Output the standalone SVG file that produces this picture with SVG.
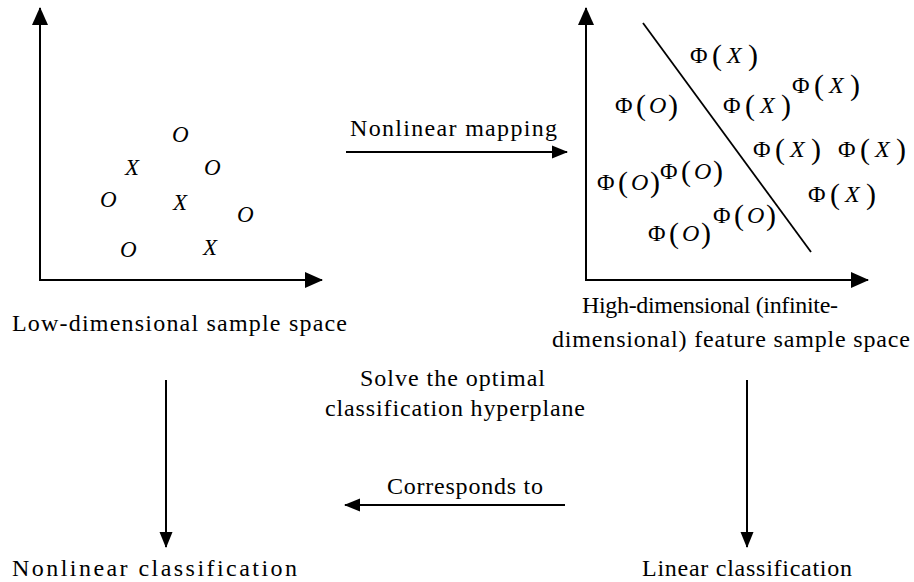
<svg xmlns="http://www.w3.org/2000/svg" width="914" height="582" viewBox="0 0 914 582">
<style>
.t{font-family:"Liberation Serif","Times New Roman",serif;font-size:24px;fill:#000}
.it{font-style:italic}
.pt{font-family:"Liberation Serif","Times New Roman",serif;font-size:23px;font-style:italic;fill:#000}
.phi{font-family:"Liberation Serif","Times New Roman",serif;font-size:24px;fill:#000}
.pr{font-size:30px}
.ax{stroke:#000;stroke-width:2;fill:none}
.ln{stroke:#000;stroke-width:1.8;fill:none}
.cn{stroke:#000;stroke-width:2;fill:none}
</style>
<defs>
<marker id="axh" markerUnits="userSpaceOnUse" markerWidth="18" markerHeight="16" refX="17" refY="8" orient="auto"><path d="M0,0 L18,8 L0,16 z" fill="#000"/></marker>
<marker id="arh" markerUnits="userSpaceOnUse" markerWidth="16" markerHeight="14" refX="15" refY="7" orient="auto"><path d="M0,0.5 L16,7 L0,13.5 z" fill="#000"/></marker>
</defs>
<rect width="914" height="582" fill="#fff"/>

<g id="low-space">
<line class="ax" x1="40" y1="281" x2="40" y2="8" marker-end="url(#axh)"/>
<line class="ax" x1="39" y1="280" x2="322" y2="280" marker-end="url(#axh)"/>
<text class="pt" x="172" y="142">O</text>
<text class="pt" x="125" y="175">X</text>
<text class="pt" x="204" y="175">O</text>
<text class="pt" x="100" y="207">O</text>
<text class="pt" x="173" y="210">X</text>
<text class="pt" x="237" y="222">O</text>
<text class="pt" x="120" y="257">O</text>
<text class="pt" x="203" y="255">X</text>
<text class="t" x="12" y="331" textLength="335" lengthAdjust="spacing">Low-dimensional sample space</text>
</g>

<g id="high-space">
<line class="ax" x1="586" y1="281" x2="586" y2="8" marker-end="url(#axh)"/>
<line class="ax" x1="585" y1="280" x2="868" y2="280" marker-end="url(#axh)"/>
<line class="ln" x1="643" y1="23" x2="811" y2="252"/>
<text class="phi" y="63"><tspan x="690">Φ</tspan><tspan class="pr" x="712" dy="2">(</tspan><tspan class="it" x="727" dy="-2">X</tspan><tspan class="pr" x="748" dy="2">)</tspan></text>
<text class="phi" y="113"><tspan x="615">Φ</tspan><tspan class="pr" x="636" dy="2">(</tspan><tspan class="it" x="649" dy="-2">O</tspan><tspan class="pr" x="668" dy="2">)</tspan></text>
<text class="phi" y="113"><tspan x="723">Φ</tspan><tspan class="pr" x="745" dy="2">(</tspan><tspan class="it" x="760" dy="-2">X</tspan><tspan class="pr" x="781" dy="2">)</tspan></text>
<text class="phi" y="93"><tspan x="792">Φ</tspan><tspan class="pr" x="814" dy="2">(</tspan><tspan class="it" x="829" dy="-2">X</tspan><tspan class="pr" x="850" dy="2">)</tspan></text>
<text class="phi" y="157"><tspan x="753">Φ</tspan><tspan class="pr" x="775" dy="2">(</tspan><tspan class="it" x="790" dy="-2">X</tspan><tspan class="pr" x="811" dy="2">)</tspan></text>
<text class="phi" y="157"><tspan x="838">Φ</tspan><tspan class="pr" x="860" dy="2">(</tspan><tspan class="it" x="875" dy="-2">X</tspan><tspan class="pr" x="896" dy="2">)</tspan></text>
<text class="phi" y="202"><tspan x="808">Φ</tspan><tspan class="pr" x="830" dy="2">(</tspan><tspan class="it" x="845" dy="-2">X</tspan><tspan class="pr" x="866" dy="2">)</tspan></text>
<text class="phi" y="190"><tspan x="597">Φ</tspan><tspan class="pr" x="618" dy="2">(</tspan><tspan class="it" x="631" dy="-2">O</tspan><tspan class="pr" x="650" dy="2">)</tspan></text>
<text class="phi" y="179"><tspan x="660">Φ</tspan><tspan class="pr" x="681" dy="2">(</tspan><tspan class="it" x="694" dy="-2">O</tspan><tspan class="pr" x="713" dy="2">)</tspan></text>
<text class="phi" y="241"><tspan x="648">Φ</tspan><tspan class="pr" x="669" dy="2">(</tspan><tspan class="it" x="682" dy="-2">O</tspan><tspan class="pr" x="701" dy="2">)</tspan></text>
<text class="phi" y="223"><tspan x="713">Φ</tspan><tspan class="pr" x="734" dy="2">(</tspan><tspan class="it" x="747" dy="-2">O</tspan><tspan class="pr" x="766" dy="2">)</tspan></text>
<text class="t" x="582" y="313" textLength="256" lengthAdjust="spacing">High-dimensional (infinite-</text>
<text class="t" x="552" y="347" textLength="358" lengthAdjust="spacing">dimensional) feature sample space</text>
</g>

<g id="nonlinear-classification">
<text class="t" x="12" y="576" textLength="285" lengthAdjust="spacing">Nonlinear classification</text>
</g>

<g id="linear-classification">
<text class="t" x="642" y="576" textLength="210" lengthAdjust="spacing">Linear classification</text>
</g>

<g id="connectors">
<line class="cn" x1="346" y1="152" x2="567" y2="152" marker-end="url(#arh)"/>
<text class="t" x="350" y="136" textLength="207" lengthAdjust="spacing">Nonlinear mapping</text>
<line class="cn" x1="747" y1="380" x2="747" y2="547" marker-end="url(#arh)"/>
<text class="t" x="360" y="386" textLength="185" lengthAdjust="spacing">Solve the optimal</text>
<text class="t" x="325" y="416" textLength="260" lengthAdjust="spacing">classification hyperplane</text>
<line class="cn" x1="565" y1="505" x2="345" y2="505" marker-end="url(#arh)"/>
<text class="t" x="387" y="494" textLength="156" lengthAdjust="spacing">Corresponds to</text>
<line class="cn" x1="166" y1="380" x2="166" y2="547" marker-end="url(#arh)"/>
</g>
</svg>
